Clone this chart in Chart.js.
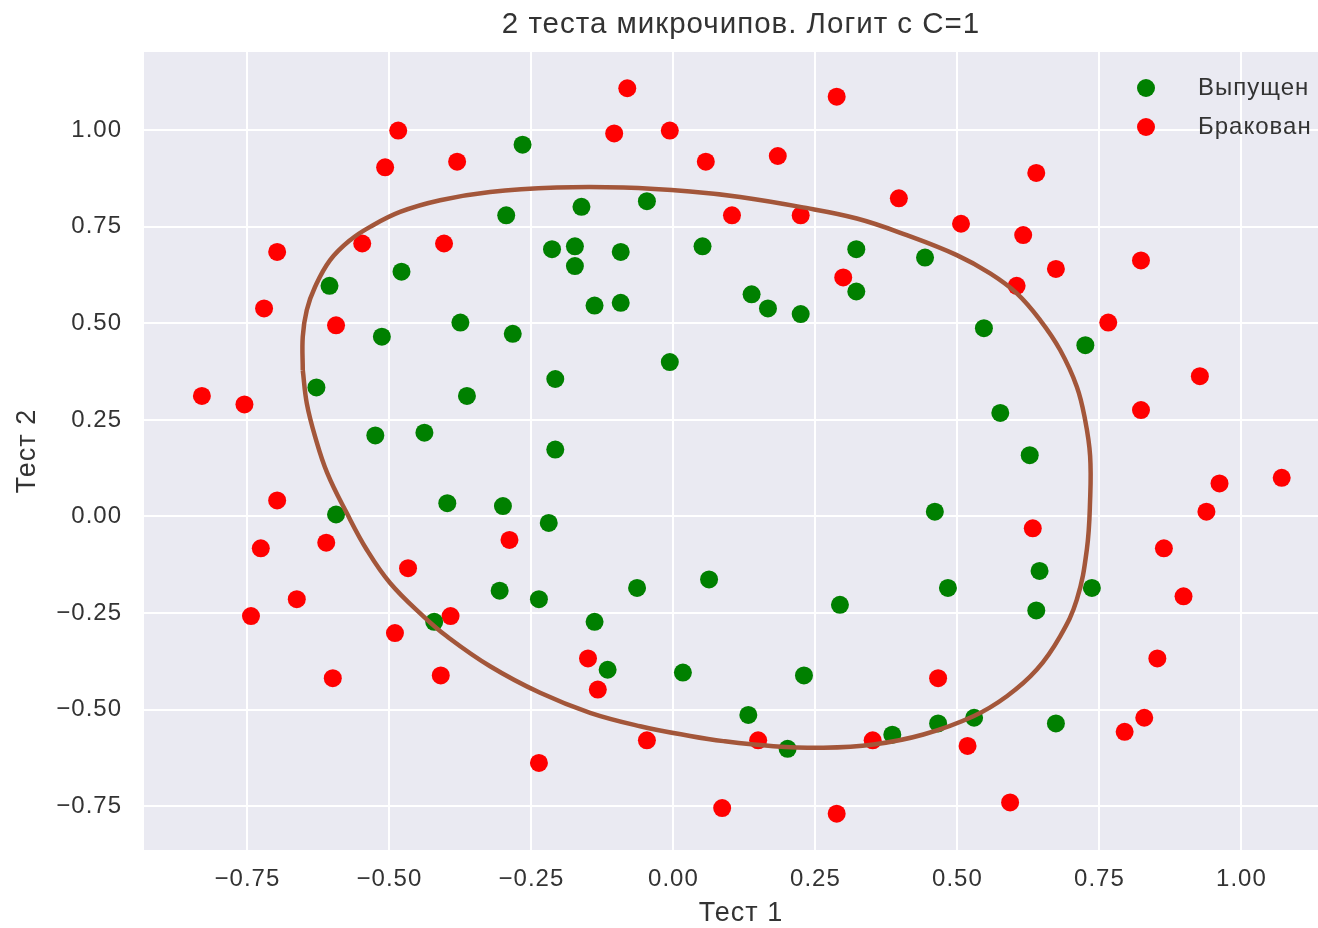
<!DOCTYPE html>
<html>
<head>
<meta charset="utf-8">
<script src="https://cdn.jsdelivr.net/npm/chart.js@4.4.1/dist/chart.umd.min.js"></script>
<style>
    html, body { margin: 0; padding: 0; background: #fff; overflow: hidden; }
    #wrap { width: 1318px; height: 928px; overflow: hidden; }
</style>
</head>
<body>
<div id="wrap">
    <canvas id="myChart" width="1338" height="928"></canvas>
</div>
<script>
// Выпущен (accepted chips)
const releasedX = [0.051267, -0.092742, -0.21371, -0.375, -0.51325, -0.52477, -0.39804, -0.30588, 0.016705, 0.13191,
    0.38537, 0.52938, 0.63882, 0.73675, 0.54666, 0.322, 0.16647, -0.046659, -0.17339, -0.47869,
    -0.60541, -0.62846, -0.59389, -0.42108, -0.11578, 0.20104, 0.46601, 0.67339, -0.13882, -0.29435,
    -0.26555, -0.16187, -0.17339, -0.28283, -0.36348, -0.30012, -0.23675, -0.06394, 0.062788, 0.22984,
    0.2932, 0.48329, 0.64459, 0.46025, 0.6273, 0.57546, 0.72523, 0.22408, 0.44297, 0.322,
    0.13767, -0.0063364, -0.092742, -0.20795, -0.20795, -0.43836, -0.21947, -0.13882];
const releasedY = [0.69956, 0.68494, 0.69225, 0.50219, 0.46564, 0.2098, 0.034357, -0.19225, -0.40424, -0.51389,
    -0.56506, -0.5212, -0.24342, -0.18494, 0.48757, 0.5826, 0.53874, 0.81652, 0.69956, 0.63377,
    0.59722, 0.33406, 0.005117, -0.27266, -0.39693, -0.60161, -0.53582, -0.53582, 0.54605, 0.77997,
    0.96272, 0.8019, 0.64839, 0.47295, 0.31213, 0.027047, -0.21418, -0.18494, -0.16301, -0.41155,
    -0.2288, -0.18494, -0.14108, 0.012427, 0.15863, 0.26827, 0.44371, 0.52412, 0.67032, 0.69225,
    0.57529, 0.39985, 0.55336, 0.35599, 0.17325, 0.21711, -0.016813, -0.27266];

// Бракован (rejected chips)
const rejectedX = [0.18376, 0.22408, 0.29896, 0.50634, 0.61578, 0.60426, 0.76555, 0.92684, 0.82316, 0.96141,
    0.93836, 0.86348, 0.89804, 0.85196, 0.82892, 0.79435, 0.59274, 0.51786, 0.46601, 0.35081,
    0.28744, 0.085829, 0.14919, -0.13306, -0.40956, -0.39228, -0.74366, -0.69758, -0.75518, -0.69758,
    -0.4038, -0.38076, -0.50749, -0.54781, 0.10311, 0.057028, -0.10426, -0.081221, 0.28744, 0.39689,
    0.63882, 0.82316, 0.67339, 1.0709, -0.046659, -0.23675, -0.15035, -0.49021, -0.46717, -0.28859,
    -0.61118, -0.66302, -0.59965, -0.72638, -0.83007, -0.72062, -0.59389, -0.48445, -0.0063364, 0.63265];
const rejectedY = [0.93348, 0.77997, 0.61915, 0.75804, 0.7288, 0.59722, 0.50219, 0.3633, 0.27558, 0.085526,
    0.012427, -0.082602, -0.20687, -0.36769, -0.5212, -0.55775, -0.7405, -0.5943, -0.41886, -0.57968,
    -0.76974, -0.75512, -0.57968, -0.4481, -0.41155, -0.25804, -0.25804, 0.041667, 0.2902, 0.68494,
    0.70687, 0.91886, 0.90424, 0.70687, 0.77997, 0.91886, 0.99196, 1.1089, 1.087, 0.82383,
    0.88962, 0.66301, 0.64108, 0.10015, -0.57968, -0.63816, -0.36769, -0.3019, -0.13377, -0.060673,
    -0.067982, -0.21418, -0.41886, -0.082602, 0.31213, 0.53874, 0.49488, 0.99927, 0.99927, -0.030612];

// Decision boundary (p = 0.5)
const boundaryX = [-0.6525, -0.6525, -0.6454, -0.6308, -0.6044, -0.5692, -0.5340, -0.4812, -0.4107, -0.3227,
    -0.2053, -0.0880, 0.0294, 0.1174, 0.2231, 0.3229, 0.4109, 0.4989, 0.5576, 0.6046,
    0.6456, 0.6808, 0.7102, 0.7248, 0.7336, 0.7336, 0.7278, 0.7102, 0.6808, 0.6398,
    0.5870, 0.5282, 0.4401, 0.3521, 0.2641, 0.1761, 0.0880, 0.0294, -0.0586, -0.1467,
    -0.2347, -0.3227, -0.3989, -0.4401, -0.4988, -0.5398, -0.5750, -0.6095, -0.6308, -0.6454, -0.6525];
const boundaryY = [0.379, 0.4655, 0.5345, 0.5948, 0.6638, 0.7155, 0.7499, 0.7887, 0.8190, 0.8405,
    0.8518, 0.8518, 0.8417, 0.8275, 0.8017, 0.7717, 0.7285, 0.6768, 0.6294, 0.5777,
    0.5087, 0.4311, 0.3362, 0.2501, 0.1570, 0.0432, -0.0861, -0.2154, -0.3103, -0.3964,
    -0.4655, -0.5172, -0.5645, -0.5904, -0.5989, -0.5948, -0.5818, -0.5684, -0.5431, -0.5084,
    -0.4567, -0.3879, -0.3103, -0.2586, -0.1722, -0.0861, 0.0088, 0.113, 0.207, 0.293, 0.379];

// Tick values and labels
const xTicks = [-0.75, -0.5, -0.25, 0, 0.25, 0.5, 0.75, 1.0];
const xTickLabels = ['\u22120.75', '\u22120.50', '\u22120.25', '0.00', '0.25', '0.50', '0.75', '1.00'];
const yTicks = [-0.75, -0.5, -0.25, 0, 0.25, 0.5, 0.75, 1.0];
const yTickLabels = ['\u22120.75', '\u22120.50', '\u22120.25', '0.00', '0.25', '0.50', '0.75', '1.00'];

const toPoints = (xs, ys) => xs.map((x, i) => ({ x: x, y: ys[i] }));

Chart.defaults.font.family = '"Liberation Sans", Arial, sans-serif';
Chart.defaults.color = '#333333';

// Grey seaborn-like background behind the plot
const plotBackground = {
    id: 'plotBackground',
    beforeDraw(chart) {
        const { ctx, chartArea } = chart;
        // slightly wider lettering, like the original render
        ctx.letterSpacing = '1px';
        ctx.save();
        ctx.fillStyle = '#eaeaf2';
        ctx.fillRect(chartArea.left, chartArea.top, chartArea.right - chartArea.left, chartArea.bottom - chartArea.top);
        ctx.restore();
    }
};

// Legend drawn inside the plot, upper right
const legendInside = {
    id: 'legendInside',
    afterDatasetsDraw(chart) {
        const { ctx, chartArea } = chart;
        ctx.save();
        ctx.font = '24px "Liberation Sans", Arial, sans-serif';
        ctx.textBaseline = 'middle';
        ctx.textAlign = 'left';
        chart.data.datasets.filter(ds => ds.inLegend).forEach((ds, i) => {
            const y = chartArea.top + 36 + i * 39;
            ctx.fillStyle = ds.backgroundColor;
            ctx.beginPath();
            ctx.arc(chartArea.right - 192, y, 9, 0, Math.PI * 2);
            ctx.fill();
            ctx.fillStyle = '#333333';
            ctx.fillText(ds.label, chartArea.right - 140, y);
        });
        ctx.restore();
    }
};

const ctx = document.getElementById('myChart').getContext('2d');

new Chart(ctx, {
    type: 'scatter',
    data: {
        datasets: [
            {
                label: 'Граница',
                data: toPoints(boundaryX, boundaryY),
                showLine: true,
                borderColor: '#a3563a',
                borderWidth: 4.5,
                pointRadius: 0,
                tension: 0.4,
                fill: false,
                order: 0
            },
            {
                label: 'Выпущен',
                inLegend: true,
                data: toPoints(releasedX, releasedY),
                backgroundColor: '#008000',
                borderColor: '#008000',
                pointRadius: 9,
                pointBorderWidth: 0,
                order: 1
            },
            {
                label: 'Бракован',
                inLegend: true,
                data: toPoints(rejectedX, rejectedY),
                backgroundColor: '#ff0000',
                borderColor: '#ff0000',
                pointRadius: 9,
                pointBorderWidth: 0,
                order: 2
            }
        ]
    },
    options: {
        responsive: false,
        animation: false,
        events: [],
        layout: { padding: 0, autoPadding: false },
        scales: {
            x: {
                type: 'linear',
                min: -0.932,
                max: 1.170,
                afterBuildTicks: scale => { scale.ticks = xTicks.map(v => ({ value: v })); },
                afterFit: scale => { scale.height = 78; },
                ticks: {
                    callback: value => xTickLabels[xTicks.indexOf(value)],
                    padding: 15,
                    font: { size: 24 },
                    color: '#333333',
                    maxRotation: 0
                },
                grid: { color: '#ffffff', lineWidth: 2, drawTicks: false },
                border: { display: false },
                title: {
                    display: true,
                    text: 'Тест 1',
                    color: '#333333',
                    font: { size: 27, lineHeight: 1 },
                    padding: { top: 0, bottom: 0.5 }
                }
            },
            y: {
                type: 'linear',
                min: -0.8637,
                max: 1.2028,
                afterBuildTicks: scale => { scale.ticks = yTicks.map(v => ({ value: v })); },
                afterFit: scale => { scale.width = 144; },
                ticks: {
                    callback: value => yTickLabels[yTicks.indexOf(value)],
                    padding: 22,
                    font: { size: 24 },
                    color: '#333333'
                },
                grid: { color: '#ffffff', lineWidth: 2, drawTicks: false },
                border: { display: false },
                title: {
                    display: true,
                    text: 'Тест 2',
                    color: '#333333',
                    font: { size: 27, lineHeight: 1 },
                    padding: { top: 14, bottom: 0 }
                }
            }
        },
        plugins: {
            legend: { display: false },
            tooltip: { enabled: false },
            title: {
                display: true,
                fullSize: false, // centre over the plot, not the whole canvas
                text: '2 теста микрочипов. Логит с C=1',
                color: '#333333',
                font: { size: 29.5, weight: 'normal', lineHeight: 1.2 },
                padding: { top: 7, bottom: 9.6 }
            }
        }
    },
    plugins: [plotBackground, legendInside]
});
</script>
</body>
</html>
